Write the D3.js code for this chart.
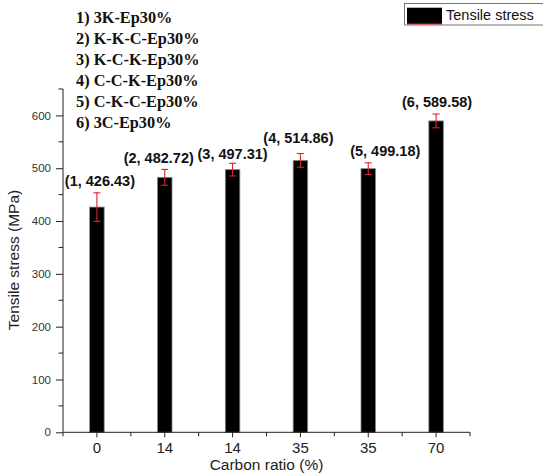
<!DOCTYPE html>
<html>
<head>
<meta charset="utf-8">
<script src="https://cdn.jsdelivr.net/npm/d3@7"></script>
<style>
  html, body { margin: 0; padding: 0; background: #fff; }
  svg { display: block; }
</style>
</head>
<body>
<svg id="chart" width="543" height="474"></svg>
<script>
// Sample groups, carbon ratio per group, mean tensile stress and error
const sampleNames = ["3K-Ep30%", "K-K-C-Ep30%", "K-C-K-Ep30%", "C-C-K-Ep30%", "C-K-C-Ep30%", "3C-Ep30%"];
const carbonRatios = ["0", "14", "14", "35", "35", "70"];
const tensileStress = [426.43, 482.72, 497.31, 514.86, 499.18, 589.58];
const stressError = [27, 15, 12, 13, 11, 13];
const yTicks = [0, 100, 200, 300, 400, 500, 600];
const yMinorTicks = [50, 150, 250, 350, 450, 550, 650];

const svg = d3.select("#chart");
const plotLeft = 63, plotRight = 470, plotBottom = 432.3, plotTop = 89;

const x = d3.scaleBand().domain(d3.range(tensileStress.length)).range([plotLeft, plotRight]).padding(0);
const y = d3.scaleLinear().domain([0, 650]).range([plotBottom, plotTop]);
const barW = x.bandwidth() * 0.214;

// Hand-placed offsets (px) of the value labels relative to their bars
const labelDx = [3, -6, 0, -2, 17, 1];
const labelDy = [0, 1, 3, -4, 0, 0];

// Bars
svg.append("g").selectAll("rect")
  .data(tensileStress)
  .join("rect")
  .attr("x", (d, i) => x(i) + x.bandwidth() / 2 - barW / 2)
  .attr("y", d => y(d))
  .attr("width", barW)
  .attr("height", d => plotBottom - y(d))
  .attr("fill", "#000")
  .attr("stroke", "#888")
  .attr("stroke-width", 0.8);

// Error bars
const eb = svg.append("g").attr("stroke", "#e0202a").attr("stroke-width", 1.1);
tensileStress.forEach((v, i) => {
  const cx = x(i) + x.bandwidth() / 2;
  const y1 = y(v + stressError[i]), y2 = y(v - stressError[i]);
  eb.append("line").attr("x1", cx).attr("x2", cx).attr("y1", y1).attr("y2", y2);
  eb.append("line").attr("x1", cx - 3.5).attr("x2", cx + 3.5).attr("y1", y1).attr("y2", y1);
  eb.append("line").attr("x1", cx - 3.5).attr("x2", cx + 3.5).attr("y1", y2).attr("y2", y2);
});

// Value labels
svg.append("g").selectAll("text")
  .data(tensileStress)
  .join("text")
  .attr("x", (d, i) => x(i) + x.bandwidth() / 2 + labelDx[i])
  .attr("y", (d, i) => y(d + stressError[i]) - 7 + labelDy[i])
  .attr("text-anchor", "middle")
  .attr("font-family", "Liberation Sans, Arial, sans-serif")
  .attr("font-weight", "bold")
  .attr("font-size", "14.5px")
  .attr("fill", "#111")
  .text((d, i) => `(${i + 1}, ${d.toFixed(2)})`);

// Y axis
const yAxis = svg.append("g")
  .attr("transform", `translate(${plotLeft},0)`)
  .call(d3.axisLeft(y).tickValues(yTicks).tickSize(7).tickPadding(5));
yAxis.select(".domain").attr("d", `M0,${plotTop}V${plotBottom}`).attr("stroke", "#222");
yAxis.selectAll(".tick line").attr("stroke", "#222");
yAxis.selectAll(".tick text")
  .attr("font-family", "Liberation Sans, Arial, sans-serif")
  .attr("font-size", "11.5px")
  .attr("fill", "#333");
svg.append("g").selectAll("line")
  .data(yMinorTicks)
  .join("line")
  .attr("x1", plotLeft - 4.5).attr("x2", plotLeft)
  .attr("y1", d => y(d)).attr("y2", d => y(d))
  .attr("stroke", "#222");

// X axis
const xAxis = svg.append("g")
  .attr("transform", `translate(0,${plotBottom})`)
  .call(d3.axisBottom(x).tickSize(5).tickPadding(5).tickFormat(i => carbonRatios[i]));
xAxis.select(".domain").attr("d", `M${plotLeft},0H${plotRight}`).attr("stroke", "#222");
xAxis.selectAll(".tick line").attr("stroke", "#222");
xAxis.selectAll(".tick text")
  .attr("font-family", "Liberation Sans, Arial, sans-serif")
  .attr("font-size", "15px")
  .attr("fill", "#222");
const boundaries = d3.range(tensileStress.length + 1).map(i => i === tensileStress.length ? plotRight : x(i));
svg.append("g").selectAll("line")
  .data(boundaries)
  .join("line")
  .attr("x1", d => d).attr("x2", d => d)
  .attr("y1", plotBottom).attr("y2", plotBottom + 4)
  .attr("stroke", "#222");

// Axis titles
svg.append("text")
  .attr("x", (plotLeft + plotRight) / 2)
  .attr("y", 470)
  .attr("text-anchor", "middle")
  .attr("font-family", "Liberation Sans, Arial, sans-serif")
  .attr("font-size", "15.5px")
  .attr("fill", "#222")
  .text("Carbon ratio (%)");
svg.append("text")
  .attr("transform", "translate(19,260) rotate(-90)")
  .attr("text-anchor", "middle")
  .attr("font-family", "Liberation Sans, Arial, sans-serif")
  .attr("font-size", "15.5px")
  .attr("fill", "#222")
  .text("Tensile stress (MPa)");

// Sample key list
svg.append("g").selectAll("text")
  .data(sampleNames)
  .join("text")
  .attr("x", 76)
  .attr("y", (d, i) => 22.7 + i * 21.1)
  .attr("font-family", "Liberation Serif, Times New Roman, serif")
  .attr("font-weight", "bold")
  .attr("font-size", "16.3px")
  .attr("fill", "#111")
  .text((d, i) => `${i + 1}) ${d}`);

// Legend
const lg = svg.append("g");
lg.append("rect").attr("x", 404.5).attr("y", 3.5).attr("width", 145).attr("height", 21.5)
  .attr("fill", "#fff").attr("stroke", "#777").attr("stroke-width", 1);
lg.append("rect").attr("x", 407).attr("y", 7.5).attr("width", 35).attr("height", 16.5).attr("fill", "#000");
lg.append("line").attr("x1", 407).attr("x2", 442).attr("y1", 7.5).attr("y2", 7.5).attr("stroke", "#3ee0f0").attr("stroke-width", 1);
lg.append("line").attr("x1", 407).attr("x2", 442).attr("y1", 24).attr("y2", 24).attr("stroke", "#e0202a").attr("stroke-width", 1);
lg.append("text").attr("x", 446).attr("y", 20)
  .attr("font-family", "Liberation Sans, Arial, sans-serif")
  .attr("font-size", "14.5px")
  .attr("fill", "#111")
  .text("Tensile stress");
</script>
</body>
</html>
